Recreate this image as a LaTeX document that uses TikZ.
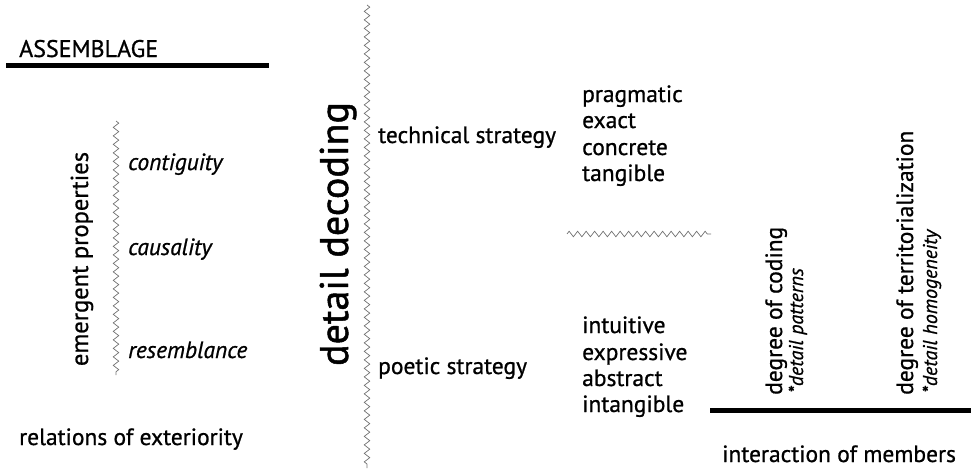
\documentclass[tikz,border=0pt]{standalone}
\usepackage{fontspec}
\setmainfont{PT Sans}[UprightFeatures={FakeBold=0.8},ItalicFeatures={FakeBold=0.8}]
\newfontfamily\decodfont{PT Sans}[FakeBold=1.2]
\usetikzlibrary{decorations.pathmorphing}
\begin{document}
\begin{tikzpicture}[x=1pt,y=-1pt,
  txt/.style={inner sep=0pt,font=\fontsize{23.5}{26}\selectfont},
  itx/.style={inner sep=0pt,font=\fontsize{23.5}{26}\selectfont\itshape},
  subtx/.style={inner sep=0pt,font=\fontsize{20}{22}\selectfont\itshape},
  wave/.style={draw=black!55,line width=0.7pt,
    decorate,decoration={zigzag,segment length=8.5pt,amplitude=2.8pt}},
  bar/.style={line width=5pt}]
\useasboundingbox (0,0) rectangle (971,471);

% left block: assemblage
\node[inner sep=0pt,anchor=base west,font=\fontsize{24}{26}\selectfont] (assem) at (19,57) {ASSEMBLAGE};
\coordinate (barAa) at (6,65);
\coordinate (barAb) at (269,65);
\draw[bar] (barAa) -- (barAb);

\node[txt,rotate=90,anchor=base,font=\fontsize{24.5}{26}\selectfont] (emerg) at (88,259) {emergent properties};
\coordinate (wlA) at (116,121);
\coordinate (wlB) at (116,375);
\draw[wave] (wlA) -- (wlB);
\node[itx,anchor=base west] (contig) at (128,170) {contiguity};
\node[itx,anchor=base west] (causal) at (128,255) {causality};
\node[itx,anchor=base west] (resem) at (128,358) {resemblance};
\node[txt,anchor=base west] (relext) at (19,445) {relations of exteriority};

% central axis: detail decoding
\node[inner sep=0pt,rotate=90,anchor=base,font=\decodfont\fontsize{40}{42}\selectfont] (decod) at (348,234) {detail decoding};
\coordinate (wcA) at (367,5);
\coordinate (wcB) at (367,468);
\draw[wave] (wcA) -- (wcB);

% strategies
\node[txt,anchor=base west] (tech) at (378,143) {technical strategy};
\node[txt,anchor=base west] (t1) at (582,102) {pragmatic};
\node[txt,anchor=base west] (t2) at (582,128) {exact};
\node[txt,anchor=base west] (t3) at (582,155) {concrete};
\node[txt,anchor=base west] (t4) at (582,181) {tangible};
\coordinate (whA) at (567,234);
\coordinate (whB) at (711,234);
\draw[wave] (whA) -- (whB);
\node[txt,anchor=base west] (poet) at (378,374) {poetic strategy};
\node[txt,anchor=base west] (p1) at (582,333) {intuitive};
\node[txt,anchor=base west] (p2) at (582,360) {expressive};
\node[txt,anchor=base west] (p3) at (582,386) {abstract};
\node[txt,anchor=base west] (p4) at (582,412) {intangible};

% right block: members
\node[txt,rotate=90,anchor=base west] (coding) at (782,395) {degree of coding};
\node[subtx,rotate=90,anchor=base west] (patt) at (803,393) {*detail patterns};
\node[txt,rotate=90,anchor=base west] (terr) at (913,395) {degree of territorialization};
\node[subtx,rotate=90,anchor=base west] (homog) at (937,393) {*detail homogeneity};
\coordinate (barBa) at (710,410);
\coordinate (barBb) at (971,410);
\draw[bar] (barBa) -- (barBb);
\node[txt,anchor=base west] (inter) at (722,462) {interaction of members};
\end{tikzpicture}
\end{document}
